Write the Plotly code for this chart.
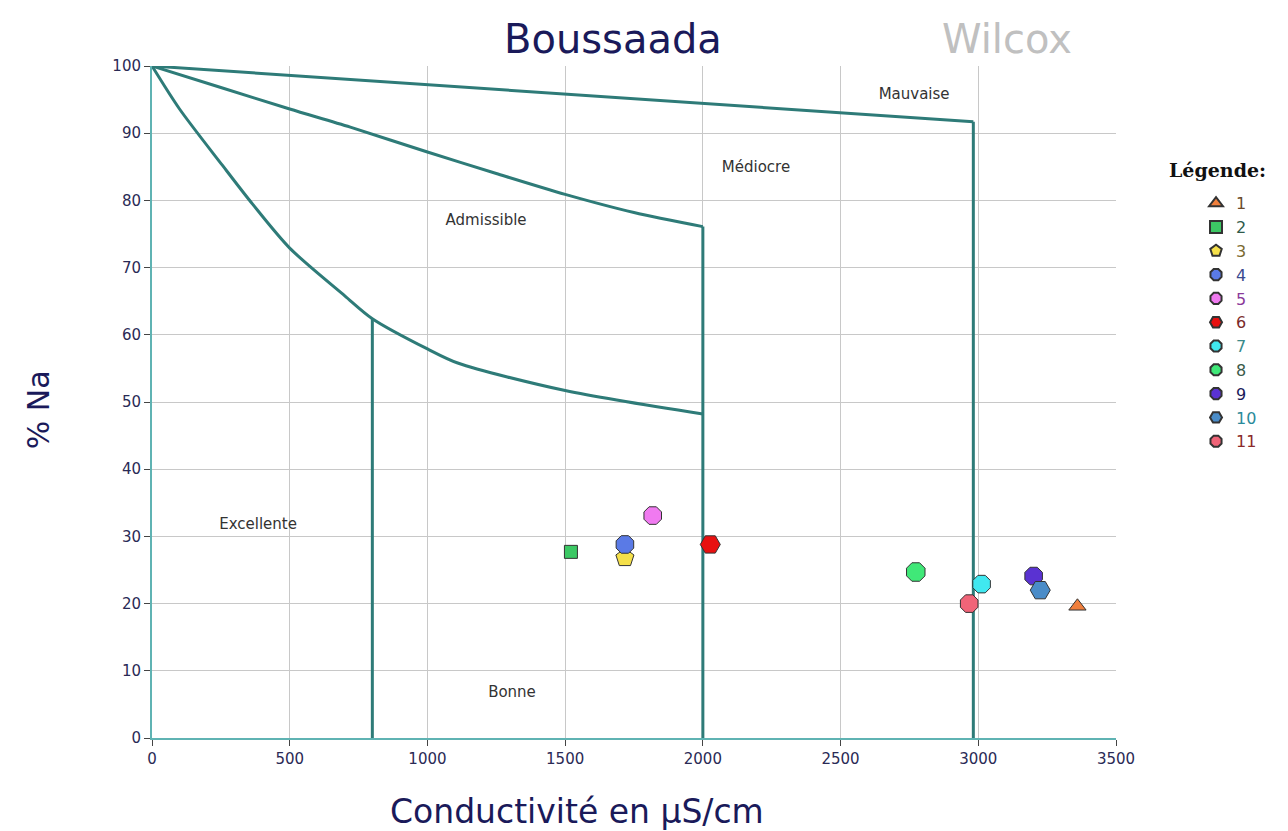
import plotly.graph_objects as go

# ---------------- data ----------------
# Wilcox boundary curves (conductivity µS/cm, % Na)
top_x = [0, 2982]
top_y = [100, 91.7]
top_drop_x = [2982, 2982]
top_drop_y = [91.7, 0]

mid_x = [0, 250, 500, 720, 1000, 1250, 1500, 1750, 2000]
mid_y = [100, 96.8, 93.6, 90.9, 87.2, 84.0, 80.9, 78.2, 76.1]
mid_drop_x = [2000, 2000]
mid_drop_y = [76.1, 0]

low_x = [0, 100, 256, 366, 500, 700, 800, 1000, 1110, 1500, 2000]
low_y = [100, 93.6, 85.2, 79.4, 72.9, 65.8, 62.4, 57.9, 55.8, 51.7, 48.2]

exc_x = [800, 800]
exc_y = [62.4, 0]

# samples
sample_names = ["1", "2", "3", "4", "5", "6", "7", "8", "9", "10", "11"]
sample_ec = [3360, 1521, 1717, 1717, 1818, 2027, 3012, 2773, 3201, 3225, 2967]
sample_na = [19.6, 27.7, 26.8, 28.8, 33.1, 28.8, 22.9, 24.7, 24.1, 22.0, 20.0]
sample_symbols = ["triangle-up", "square", "pentagon", "octagon", "octagon",
                  "hexagon2", "octagon", "octagon", "octagon", "hexagon2", "octagon"]
sample_colors = ["#f07f3c", "#3cc864", "#f5e04a", "#5a7ae6", "#f07af0",
                 "#e81010", "#40e8f0", "#40e878", "#5a32d2", "#4a8cc8", "#f06478"]
label_colors = ["#6b4a2a", "#2f5a4a", "#7a6a30", "#3a4a90", "#8a3a9a",
                "#7a2a2a", "#3a8a8a", "#3a5a4a", "#1a1a5a", "#2a8a9a", "#8a2a2a"]
sample_sizes = [15, 13, 19, 19, 19, 20, 19, 20, 19, 20, 19]

# region labels
zone_names = ["Mauvaise", "Médiocre", "Admissible", "Excellente", "Bonne"]
zone_x = [2767, 2193, 1213, 385, 1307]
zone_y = [95.7, 84.8, 76.9, 31.7, 6.7]

x_ticks = [0, 500, 1000, 1500, 2000, 2500, 3000, 3500]
y_ticks = [0, 10, 20, 30, 40, 50, 60, 70, 80, 90, 100]

LINE = "#2e7b78"
SANS = "DejaVu Sans"

fig = go.Figure()
for xs, ys, shape in [(top_x, top_y, "linear"), (top_drop_x, top_drop_y, "linear"),
                      (mid_x, mid_y, "spline"), (mid_drop_x, mid_drop_y, "linear"),
                      (low_x, low_y, "spline"), (exc_x, exc_y, "linear")]:
    fig.add_trace(go.Scatter(x=xs, y=ys, mode="lines",
                             line=dict(color=LINE, width=3, shape=shape, smoothing=0.8),
                             showlegend=False, hoverinfo="skip"))

for i, n in enumerate(sample_names):
    fig.add_trace(go.Scatter(
        x=[sample_ec[i]], y=[sample_na[i]], mode="markers",
        name='<span style="color:%s">%s</span>' % (label_colors[i], n),
        marker=dict(symbol=sample_symbols[i], color=sample_colors[i],
                    size=sample_sizes[i], line=dict(color="#333333", width=1)),
    ))

fig.add_trace(go.Scatter(x=zone_x, y=zone_y, mode="text", text=zone_names,
                         textfont=dict(family=SANS, size=15, color="#333333"),
                         showlegend=False, hoverinfo="skip"))

axis_common = dict(showgrid=True, gridcolor="#c8c8c8", gridwidth=1, zeroline=False,
                   showline=True, linecolor="#5fb3b3", linewidth=2,
                   ticks="outside", ticklen=6, tickcolor="#444444",
                   tickfont=dict(family=SANS, size=15, color="#2a2a55"))
fig.update_xaxes(range=[0, 3500], tickvals=x_ticks, **axis_common)
fig.update_yaxes(range=[0, 100], tickvals=y_ticks, **axis_common)

def note(text, x, y, size, color, family=SANS, angle=0):
    return dict(text=text, x=x, y=y, xref="paper", yref="paper",
                xanchor="center", yanchor="middle", textangle=angle,
                showarrow=False, font=dict(family=family, size=size, color=color))

fig.update_layout(
    width=1288, height=831,
    margin=dict(l=144, r=180, t=58, b=101),
    paper_bgcolor="white", plot_bgcolor="white",
    showlegend=True,
    legend=dict(x=1.083, xanchor="left", y=0.821, yanchor="top",
                font=dict(family=SANS, size=16),
                itemsizing="constant", tracegroupgap=0,
                bgcolor="rgba(0,0,0,0)"),
    annotations=[
        note("Boussaada", 0.478, 1.040, 40, "#1a1a5a"),
        note("Wilcox", 0.887, 1.040, 40, "#c0c0c0"),
        note("Conductivité en µS/cm", 0.441, -0.110, 33, "#1a1a5a"),
        note("% Na", -0.118, 0.488, 30, "#1a1a5a", angle=-90),
        note("<b>Légende:</b>", 1.105, 0.845, 19, "#111111", family="DejaVu Serif"),
    ],
)

fig.write_html("out.html")
